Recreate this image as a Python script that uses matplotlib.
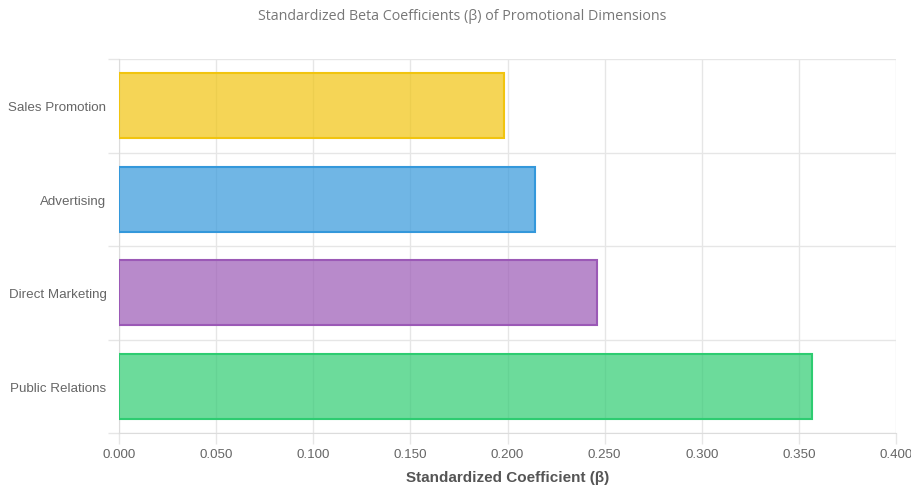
import matplotlib
matplotlib.use('Agg')
import matplotlib.pyplot as plt
import numpy as np

# data
categories = ['Sales Promotion', 'Advertising', 'Direct Marketing', 'Public Relations']
betas = [0.198, 0.214, 0.246, 0.357]
edge_colors = ['#f1c40f', '#3498db', '#9b59b6', '#2ecc71']
x_ticks = [0.0, 0.05, 0.1, 0.15, 0.2, 0.25, 0.3, 0.35, 0.4]

W, H = 911, 489
fig = plt.figure(figsize=(W / 100, H / 100), dpi=100)
ax = fig.add_axes([119 / W, 55 / H, (896 - 119) / W, (434 - 60) / H])

grid_col = '#e6e6e6'
text_col = '#666666'

y = np.arange(len(categories))
ax.barh(y, betas, height=0.7, color=edge_colors, alpha=0.7, zorder=2)
ax.barh(y, betas, height=0.7, facecolor='none', edgecolor=edge_colors,
        linewidth=1.5, zorder=3)

ax.set_ylim(len(categories) - 0.5, -0.5)
ax.set_xlim(0, 0.4)

# y grid at category boundaries
ax.set_yticks(y)
ax.set_yticklabels(categories, fontfamily='Liberation Sans', fontsize=9.6, color=text_col)
ax.set_yticks(np.arange(len(categories) + 1) - 0.5, minor=True)
ax.tick_params(axis='y', which='major', length=0, pad=9)
ax.tick_params(axis='y', which='minor', length=8, color=grid_col, width=1)
ax.grid(axis='y', which='minor', color=grid_col, linewidth=1, zorder=0)

ax.set_xticks(x_ticks)
ax.set_xticklabels([f'{v:.3f}' for v in x_ticks], fontfamily='Liberation Sans',
                   fontsize=9.6, color=text_col)
ax.tick_params(axis='x', length=8, color=grid_col, width=1, pad=3)
ax.grid(axis='x', color=grid_col, linewidth=1, zorder=0)
ax.set_axisbelow(True)

for s in ax.spines.values():
    s.set_visible(False)
ax.spines['bottom'].set_visible(True)
ax.spines['bottom'].set_color('#dcdcdc')
ax.spines['left'].set_visible(True)
ax.spines['left'].set_color('#dcdcdc')

ax.set_xlabel('Standardized Coefficient (β)', fontfamily='Liberation Sans',
              fontsize=11, fontweight='bold', color='#555555', labelpad=7)

fig.text(462 / W, 1 - 16 / H, 'Standardized Beta Coefficients (β) of Promotional Dimensions',
         ha='center', va='center', fontfamily='Open Sans', fontsize=10.3, color='#777777')

fig.savefig('out.png', dpi=100)
